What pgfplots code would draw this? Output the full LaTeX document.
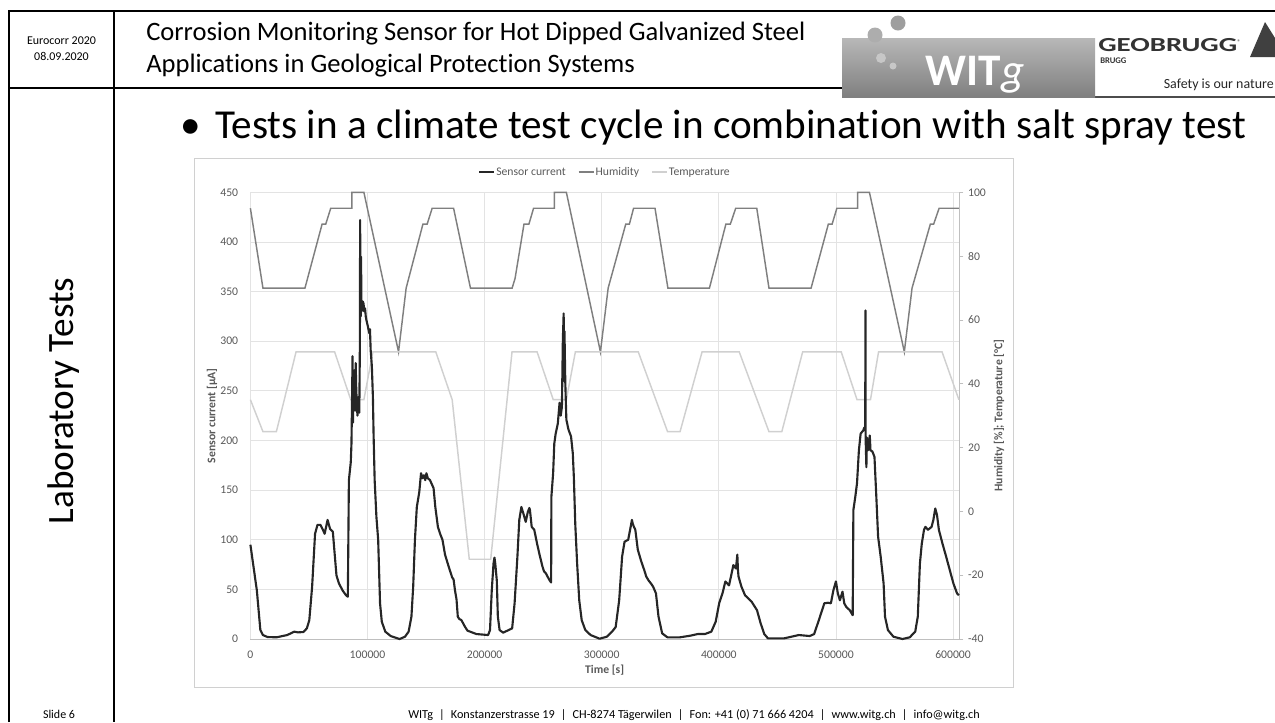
\documentclass[border=0pt]{standalone}
\usepackage{fontspec}
\setmainfont{Carlito}[Ligatures=NoCommon]
\usepackage{graphicx}
\usepackage{pgfplots}
\pgfplotsset{compat=1.18}
\usepackage{pgfplotstable}

\definecolor{senc}{HTML}{262626}
\definecolor{humc}{HTML}{7F7F7F}
\definecolor{tempc}{HTML}{D0D0D0}
\definecolor{gridc}{HTML}{E3E3E3}
\definecolor{axc}{HTML}{BFBFBF}
\definecolor{txtc}{HTML}{595959}
\definecolor{framec}{HTML}{D0D0D0}
\newcommand{\chartfont}{\fontsize{8.8}{10}\selectfont}

\pgfplotstableread{
x y
0 95
10700 70
46600 70
61200 90
64300 90
68600 95
86600 95
86600 100
96900 100
126500 50
133000 70
147300 90
150900 90
155200 95
173500 95
187900 70
223500 70
226000 73
233600 90
237800 90
241800 95
259500 95
259500 100
269800 100
298900 50
305500 70
320500 90
323600 90
327200 95
345500 95
356500 70
392000 70
406000 90
409800 90
414400 95
432400 95
442800 70
478800 70
493500 90
496700 90
500800 95
518600 95
518600 100
528600 100
558400 50
565000 70
580600 90
583400 90
588100 95
605000 95
}\humidity

\pgfplotstableread{
x y
0 35
10700 25
22200 25
39000 50
71900 50
85700 35
96900 35
104600 50
158300 50
172300 35
186900 -15
205200 -15
223400 50
244800 50
258600 35
269800 35
277500 50
331200 50
356200 25
366900 25
385700 50
417400 50
442800 25
453800 25
471600 50
504500 50
518000 35
529500 35
536400 50
590600 50
605000 35
}\temperature

\pgfplotstableread{
x y
0 95
5500 49
8500 9
10700 4
14600 2
22300 1.7
31400 4
37500 7.4
40500 6.7
45100 7
48200 10.7
50300 19
52700 52.7
55200 106
57300 115
59800 115
61900 110
63400 106
65900 120
68000 111
70400 108
72000 85
73500 64
75600 56
78700 49
81700 44
83200 42.6
84100 160
85700 178
86300 197
86900 250
87200 285
87600 218
88100 262
88500 241
89000 271
89400 230
89900 278
90400 250
90900 238
91400 225
91800 232
92400 244
93000 228
93500 300
93700 422
94000 330
94200 325
94500 385
94800 330
95400 332
96000 340
96600 338
97200 330
97900 333
98500 325
99100 321
100300 315
101500 308
102100 312
102700 291
103700 275
104600 244
105200 205
106100 160
107600 123
109100 100
110700 36
112200 17.4
115200 7.4
119800 3
127400 0
132000 2.3
135100 7.4
137500 22.5
139000 52.7
140500 100
142100 133
144200 148
145700 167
147000 162
148200 165
149300 160
150300 167
151500 162
153400 160
156400 152
157900 133
160100 113
162000 106
164000 100
166200 85
168000 78
170100 70
172300 62
173500 60
174700 49
176000 40
177100 22.5
178500 20
180200 19
183200 12.4
185400 8.4
193000 5
203000 4
204600 9
206100 49
207600 76
208400 82
209100 76
210400 59
211300 22.5
212800 9
215900 6.4
220400 9
223500 10.7
225600 36
228000 83
229600 120
231400 133
233200 126
235100 118
236900 128
238200 132
238700 130
240200 113
242400 110
244800 96
247300 83
249400 73
250800 68
252400 66
254600 61
256100 58
256800 57
257000 143
258500 167
259500 197
260700 207
262500 217
264000 238
265000 225
266000 234
266800 301
267500 328
267800 260
268200 310
268900 258
269800 221
271600 211
273800 204
275300 187
276200 163
277400 116
279000 76
280800 39
282900 19
286000 9
290500 4
298200 0.3
304300 2.3
308800 7.4
311900 12
314900 39
317400 83
319500 98
322600 100
324700 113
325800 120
326500 116
327500 113
328700 110
330800 90
333800 78
336300 69.5
338000 63
340000 59
342000 56
343900 52.7
346300 46
348500 22.5
351600 5.7
356100 1.7
366800 1.7
375900 3.4
382000 5
388100 5
393600 7.4
397300 17.4
400300 36
403100 46
405600 58
408700 54
410900 66
412400 74.5
414600 71
415800 85
416300 70
416800 63
419300 52.7
422400 44
428000 37.6
432600 29
435700 15.8
438800 5
441900 0.7
455900 0.7
468300 4
477600 3
481400 5
485400 19
490100 36
493200 36.5
495700 36
497800 49
500000 58
501600 46
503400 39
505600 47.7
507100 36
508700 32.5
511800 29
514300 24
514900 130
516500 143
518000 157
519600 190
521100 207
523300 210
524200 213
525000 212
525200 331
525400 200
526000 173
526400 203
527300 190
528300 200
528900 205
529500 190
531100 189
532900 183.5
534500 143
536000 103
538200 83
540700 56
541900 22.5
544400 9
549100 2.3
556800 0
563000 1.7
567700 7.4
569900 22.5
571700 76
573300 96
575200 110
576400 113
578600 110
581700 113
583200 120
584800 131.5
586300 125
587900 110
591000 96
594100 83
597200 69.5
600300 56
603400 46
605000 44
}\sensor

\pgfplotsset{
  chartbase/.style={
    at={(188.54pt,-481.13pt)}, anchor=south west,
    width=533.46pt, height=336.34pt, scale only axis,
    xmin=0, xmax=605000, clip=false,
    /pgf/number format/assume math mode=true,
    ticklabel style={font=\chartfont, text=txtc},
    label style={font=\chartfont\bfseries, text=txtc},
  }
}

\begin{document}
\begin{tikzpicture}
\begin{scope}[x=0.75294pt,y=-0.75294pt]
\path[use as bounding box] (0,0) rectangle (1275,722);
% slide frame
\draw[line width=1.5pt] (9,722) -- (9,11) -- (1275,11);
\draw[line width=1.5pt] (114,11) -- (114,722);
\draw[line width=1.5pt] (9,88) -- (842,88);
\draw[line width=0.8pt, draw=black!70] (1095,97) -- (1275,97);
% header texts
\node[font=\fontsize{9}{12}\selectfont, align=center] at (61.5,49) {Eurocorr 2020\\08.09.2020};
\node[anchor=base west, font=\fontsize{20}{24}\selectfont, inner sep=0pt] at (146,40) {Corrosion Monitoring Sensor for Hot Dipped Galvanized Steel};
\node[anchor=base west, font=\fontsize{20}{24}\selectfont, inner sep=0pt] at (146,72) {Applications in Geological Protection Systems};
% WITg logo
\shade[top color=black!28, bottom color=black!50] (842,38) rectangle (1095,97);
\fill[black!32] (875,35) circle (7.5);
\fill[black!38] (898,23) circle (7.5);
\fill[black!22] (881,58) circle (5);
\fill[black!22] (893,66) circle (3.5);
\node[text=white, inner sep=0pt, anchor=base] at (975,85) {\fontsize{34}{34}\selectfont\bfseries WIT\itshape\mdseries g};
% GEOBRUGG logo
\node[anchor=west, inner sep=0pt, text=black!80] at (1098,45) {\scalebox{1.45}[1]{\fontsize{15}{15}\selectfont\bfseries GEOBRUGG}\raisebox{5pt}{\fontsize{5}{5}\selectfont ®}};
\fill[black!75] (1250,57) -- (1265,22) -- (1275,38) -- (1275,57) -- cycle;
\node[anchor=west, inner sep=0pt, text=black!80] at (1100,61) {\fontsize{6.5}{7}\selectfont\bfseries BRUGG};
\node[anchor=base east, inner sep=0pt, text=black!85] at (1274,88) {\fontsize{10.5}{11}\selectfont Safety is our nature};
% left column
\node[rotate=90, anchor=base, font=\fontsize{28}{32}\selectfont, inner sep=0pt] at (73,401) {Laboratory Tests};
\node[anchor=base, font=\fontsize{9}{11}\selectfont, inner sep=0pt] at (59,718) {Slide 6};
% bullet line
\node[anchor=base west, font=\fontsize{31}{36}\selectfont, inner sep=0pt] at (180,138) {•};
\node[anchor=base west, font=\fontsize{31}{36}\selectfont, inner sep=0pt] at (215,138) {Tests in a climate test cycle in combination with salt spray test};
% footer
\node[anchor=base, font=\fontsize{9.2}{11}\selectfont, inner sep=0pt] at (694,718) {WITg\enspace|\enspace Konstanzerstrasse 19\enspace|\enspace CH-8274 Tägerwilen\enspace|\enspace Fon: +41 (0) 71 666 4204\enspace|\enspace www.witg.ch\enspace|\enspace info@witg.ch};
% chart frame
\draw[draw=framec, line width=0.7pt] (194,158.3) rectangle (1013.5,687.3);
\end{scope}

% primary axis: grid, ticks, labels, legend
\begin{axis}[chartbase,
  ymin=0, ymax=450,
  xtick={0,100000,...,600000}, ytick={0,50,...,450},
  scaled x ticks=false,
  xticklabel style={/pgf/number format/fixed, /pgf/number format/1000 sep={}},
  grid=major, major grid style={draw=gridc, line width=0.6pt},
  axis x line*=bottom, axis y line*=left,
  x axis line style={draw=axc, line width=0.6pt, -},
  y axis line style={draw=none, -},
  major tick length=0pt,
  xticklabel style={anchor=base, yshift=-14.3pt},
  yticklabel style={anchor=east, xshift=-5.7pt},
  xlabel={Time [s]},
  xlabel style={at={(axis description cs:0.5,-0.0694)}, anchor=center},
  ylabel={Sensor current [µA]},
  ylabel style={at={(axis description cs:-0.0542,0.5)}, anchor=center},
  legend style={at={(0.5,1.0455)}, anchor=center, draw=none, fill=none,
    font=\chartfont, text=txtc, legend columns=3,
    /tikz/every even column/.append style={column sep=8pt},
    nodes={inner sep=1pt, text height=1.6ex, text depth=0.45ex}},
  legend image code/.code={\draw[#1] (0pt,0pt) -- (11.3pt,0pt);},
]
\addlegendimage{line width=1.3pt, color=senc}
\addlegendentry{Sensor current}
\addlegendimage{line width=1.1pt, color=humc}
\addlegendentry{Humidity}
\addlegendimage{line width=1.1pt, color=tempc}
\addlegendentry{Temperature}
\end{axis}

% secondary axis: humidity and temperature
\begin{axis}[chartbase,
  ymin=-40, ymax=100, ytick={-40,-20,...,100},
  axis x line=none, axis y line*=right,
  y axis line style={draw=axc, line width=0.6pt, -},
  tick align=outside, major tick length=3.4pt,
  ytick style={draw=axc, line width=0.6pt},
  yticklabel style={anchor=west},
  ylabel={Humidity [\%]; Temperature [°C]},
  ylabel style={at={(axis description cs:1.0566,0.5)}, anchor=center},
]
\addplot[color=humc, line width=1.1pt] table[x=x, y=y] {\humidity};
\addplot[color=tempc, line width=1.1pt] table[x=x, y=y] {\temperature};
\end{axis}

% sensor current on top
\begin{axis}[chartbase, ymin=0, ymax=450, hide axis]
\addplot[color=senc, line width=1.6pt, line join=round] table[x=x, y=y] {\sensor};
\end{axis}
\end{tikzpicture}
\end{document}
